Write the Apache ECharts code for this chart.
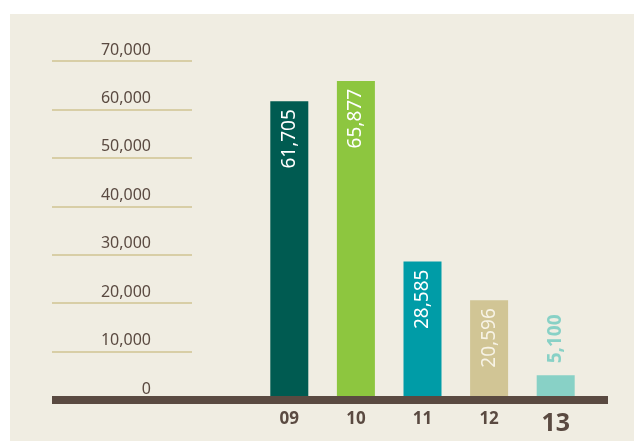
<!DOCTYPE html>
<html>
<head>
<meta charset="utf-8">
<script src="https://cdn.jsdelivr.net/npm/echarts@6/dist/echarts.min.js"></script>
<style>
    html, body { margin: 0; padding: 0; background: #ffffff; }
    #chart { position: absolute; left: 10px; top: 14px; width: 624px; height: 427px; }
</style>
</head>
<body>
<div id="chart"></div>
<script>
    // data
    var years = ['09', '10', '11', '12', '13'];
    var totals = [61705, 65877, 28585, 20596, 5100];
    var barColors = ['#005b51', '#8dc63f', '#009ca7', '#d1c595', '#88d1c6'];
    var yTicks = [0, 10000, 20000, 30000, 40000, 50000, 60000, 70000];

    var brown = '#5a4a41';
    var fmt = function (v) { return Number(v).toLocaleString('en-US'); };

    var barData = totals.map(function (v, i) {
        var item = { value: v, itemStyle: { color: barColors[i] } };
        if (i === totals.length - 1) {
            // last year: label sits above the bar
            item.label = {
                position: 'top',
                distance: 12,
                align: 'left',
                color: '#88d1c6',
                fontWeight: 'bold'
            };
        } else if (i === 3) {
            item.label = { color: '#f7f3e6' };
        }
        return item;
    });

    var myChart = echarts.init(document.getElementById('chart'));
    var option = {
        backgroundColor: '#f0ede2',
        animation: false,
        textStyle: { fontFamily: 'Noto Sans' },
        grid: [
            { left: 42, right: 26, top: 47, bottom: 41 },
            { left: 42, width: 140, top: 47, bottom: 41 },
            { left: 246, width: 333, top: 47, bottom: 41 }
        ],
        xAxis: [
            {
                gridIndex: 0,
                type: 'value',
                position: 'bottom',
                z: 10,
                axisLine: { show: true, onZero: false, lineStyle: { color: brown, width: 8, cap: 'butt' } },
                axisTick: { show: false },
                axisLabel: { show: false },
                splitLine: { show: false }
            },
            { gridIndex: 1, type: 'value', show: false },
            {
                gridIndex: 2,
                type: 'category',
                data: years,
                axisLine: { show: false },
                axisTick: { show: false },
                axisLabel: {
                    margin: 11,
                    formatter: function (v, i) {
                        return i === years.length - 1 ? '{big|' + v + '}' : '{n|' + v + '}';
                    },
                    rich: {
                        n: { color: brown, fontSize: 17, fontWeight: 'bold', fontFamily: 'Noto Sans' },
                        big: { color: brown, fontSize: 25, fontWeight: 'bold', fontFamily: 'Noto Sans' }
                    }
                }
            }
        ],
        yAxis: [
            { gridIndex: 0, type: 'value', show: false },
            {
                gridIndex: 1,
                type: 'value',
                position: 'right',
                min: yTicks[0],
                max: yTicks[yTicks.length - 1],
                interval: 10000,
                axisLine: { show: false },
                axisTick: { show: false },
                axisLabel: {
                    inside: true,
                    margin: 41,
                    color: brown,
                    fontSize: 16,
                    verticalAlign: 'bottom',
                    padding: [0, 0, 3, 0],
                    formatter: fmt
                },
                splitLine: { lineStyle: { color: '#d8cea6', width: 2 } }
            },
            {
                gridIndex: 2,
                type: 'value',
                min: yTicks[0],
                max: yTicks[yTicks.length - 1],
                show: false
            }
        ],
        series: [
            {
                type: 'bar',
                xAxisIndex: 2,
                yAxisIndex: 2,
                barWidth: 38,
                data: barData,
                label: {
                    show: true,
                    position: 'insideTop',
                    distance: 8,
                    rotate: 90,
                    align: 'right',
                    verticalAlign: 'middle',
                    color: '#ffffff',
                    fontSize: 19,
                    formatter: function (p) { return fmt(p.value); }
                }
            }
        ]
    };
    myChart.setOption(option);
</script>
</body>
</html>
